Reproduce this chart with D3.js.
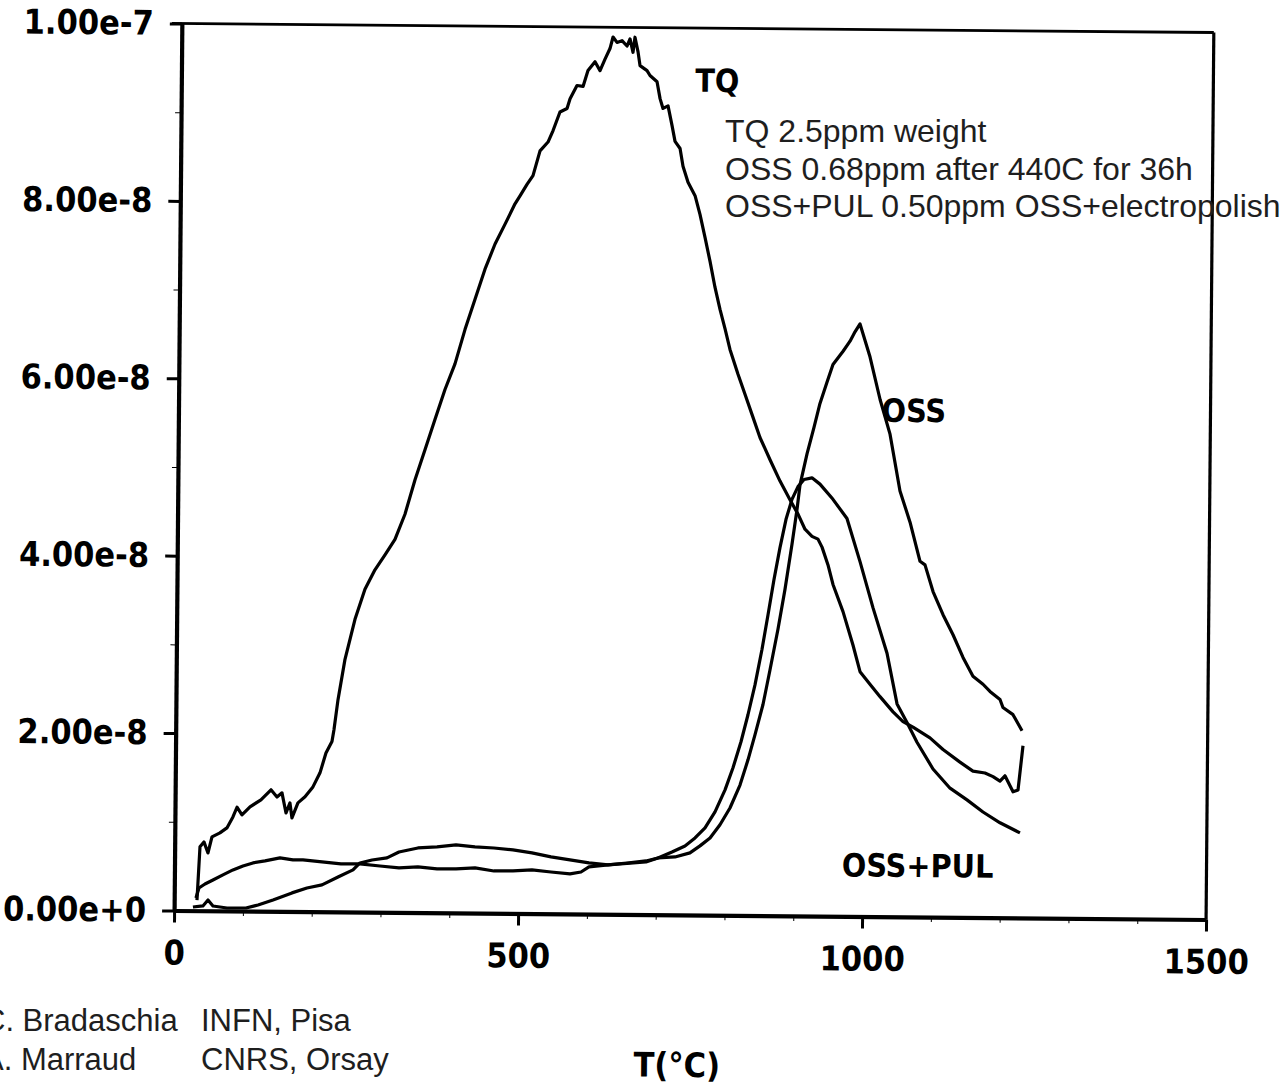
<!DOCTYPE html>
<html>
<head>
<meta charset="utf-8">
<script src="https://cdn.jsdelivr.net/npm/d3@7"></script>
<style>
  body { margin: 0; background: #ffffff; }
  svg { display: block; }
</style>
</head>
<body>
<div id="grafTDS"></div>
<script>
// desorption curves, [temperature °C, signal in units of 1e-9]
const tqData = [
    [33.1, 1.2], [36.8, 7.2], [42.5, 7.76], [48.5, 6.52], [54.1, 8.34], [65.6, 8.79], [75.7, 9.36],
    [84.3, 10.6], [90.1, 11.7], [97.4, 10.85], [109, 11.76], [124.8, 12.56], [139.3, 13.7], [148.1, 12.9],
    [155.3, 13.37], [161.4, 11.1], [167, 12.24], [170.1, 10.55], [178.6, 12.25], [188.8, 12.94],
    [200.2, 14.07], [210.3, 15.66], [218.7, 17.9], [227.3, 19.2], [230, 20.5], [235.5, 23.9],
    [245.1, 28.45], [259.2, 33.0], [273.3, 36.4], [287.6, 38.6], [302, 40.3], [316.3, 42.05],
    [330.5, 44.9], [344.7, 48.8], [358.8, 52.2], [372.9, 55.6], [387.1, 59.0], [401.3, 61.9],
    [415.5, 65.8], [429.6, 69.2], [443.7, 72.6], [458, 75.45], [472.3, 77.7], [486.5, 80.0],
    [493.7, 80.9], [503.7, 82.2], [512.3, 83.2], [522.2, 86.0], [533.7, 87.0], [540.9, 88.3],
    [550.7, 90.4], [560.9, 90.8], [565.2, 91.9], [575.1, 93.4], [583.9, 93.3], [590.9, 95.1],
    [601, 96.1], [608.4, 95.1], [615.5, 96.4], [622.6, 97.6], [626.9, 98.9], [632.7, 98.3],
    [640, 98.5], [647.3, 97.9], [651.6, 98.7], [656.1, 97.2], [658.8, 98.9], [663.4, 97.25],
    [666.5, 95.7], [676.7, 95.15], [681.1, 94.6], [691.4, 93.9], [696, 92.0], [700.4, 90.9],
    [707.7, 91.2], [713.7, 89.0], [718.3, 87.2], [725.7, 86.4], [730.2, 84.4], [737.7, 82.6],
    [748.1, 81.1], [755.5, 79.0], [763.1, 76.4], [770.7, 73.7], [778.2, 70.8], [785.8, 68.3],
    [793.4, 66.1], [800.8, 63.8], [812.8, 61.0], [823.2, 58.75], [833.6, 56.5], [845.5, 53.9],
    [860.4, 51.4], [875.2, 49.0], [889.9, 46.9], [901.8, 45.3], [912.1, 43.6], [922.4, 42.8],
    [931.1, 42.5], [937.1, 41.6], [946, 39.6], [953.5, 37.4], [968.4, 34.35], [983.3, 30.6],
    [993.9, 27.6], [1008.5, 26.2], [1023.3, 24.8], [1042.4, 23.1], [1057, 22.0], [1071.6, 21.4],
    [1096.4, 20.2], [1115.5, 18.9], [1140.3, 17.5], [1159.3, 16.5], [1176.8, 16.3], [1188.5, 15.9],
    [1198.7, 15.4], [1205.9, 16.0], [1217.8, 14.2], [1225, 14.4], [1231.7, 19.4]
];

const ossData = [
    [27.3, 0.41], [41.8, 0.54], [49.1, 1.21], [56.4, 0.54], [76.8, 0.33], [104.4, 0.35], [121.9, 0.7],
    [143.6, 1.28], [171.1, 2.1], [192.8, 2.67], [214.6, 3.03], [237.8, 3.94], [259.5, 4.75],
    [269.5, 5.54], [287, 5.89], [308.7, 6.14], [326.1, 6.82], [353.6, 7.29], [381.3, 7.43],
    [408.9, 7.67], [436.5, 7.47], [464.1, 7.36], [491.7, 7.16], [519.4, 6.84], [547.1, 6.41],
    [574.7, 6.09], [602.4, 5.77], [630, 5.57], [685.2, 5.93], [702.6, 6.4], [727.3, 6.53],
    [749, 7.0], [763.5, 7.8], [778, 8.7], [792.3, 10.2], [806.6, 12.1], [820.9, 14.7], [832.2, 17.55],
    [842.1, 20.4], [853.3, 23.8], [863, 27.7], [874.1, 32.3], [883.8, 36.8], [893.4, 41.9],
    [900.2, 45.8], [904.3, 48.6], [914.1, 52.1], [923.9, 55.1], [932.3, 57.8], [942.2, 60.2],
    [950.7, 62.2], [965.2, 63.7], [975.2, 64.85], [982.3, 65.9], [989.5, 66.8], [1004.4, 63.1],
    [1019.6, 58.3], [1034.5, 54.4], [1049.7, 48.0], [1064.7, 44.5], [1079.7, 40.1], [1087, 39.7],
    [1099, 36.7], [1113.8, 34.1], [1128.6, 31.85], [1143.4, 29.3], [1158.1, 27.2], [1172.8, 26.3],
    [1183, 25.5], [1197.7, 24.6], [1202.1, 23.7], [1216.8, 22.9], [1230.1, 21.1]
];

const ossPulData = [
    [31.6, 1.43], [35.8, 2.56], [44.5, 3.02], [56.1, 3.48], [70.5, 4.06], [85, 4.63], [99.5, 5.09],
    [114, 5.44], [131.5, 5.68], [153.2, 6.04], [172.1, 5.82], [186.6, 5.83], [214.3, 5.62],
    [241.9, 5.41], [269.5, 5.43], [298.6, 5.22], [326.3, 5.02], [353.8, 5.15], [381.6, 4.94],
    [409.2, 4.96], [436.8, 5.1], [464.4, 4.77], [492, 4.79], [519.6, 4.92], [547.3, 4.71],
    [574.9, 4.51], [590.9, 4.74], [602.4, 5.32], [630, 5.57], [657.6, 5.8], [685.2, 6.05],
    [702.6, 6.4], [722.9, 7.09], [741.7, 7.78], [756.2, 8.69], [770.6, 9.83], [784.9, 11.65],
    [799.2, 14.14], [810.5, 16.64], [821.8, 19.58], [831.6, 22.63], [841.4, 26.0], [851.1, 30.0],
    [859.4, 33.9], [867.7, 37.9], [876, 41.5], [884.4, 44.7], [892.8, 46.95], [901.4, 48.4],
    [910.1, 49.2], [921.6, 49.4], [933.3, 48.7], [952.4, 47.0], [973, 44.85], [992.5, 40.0],
    [1012, 34.8], [1032.9, 29.7], [1048.1, 24.0], [1062.8, 21.9], [1077.6, 19.7], [1101.2, 16.7],
    [1126.2, 14.55], [1151, 13.25], [1174.4, 11.9], [1199.3, 10.7], [1228.4, 9.58]
];

const seriesNames = ["TQ", "OSS", "OSS+PUL"];
const signalUnit = 1e-9;
const xTicks = [0, 500, 1000, 1500];
const xMinorTicks = [100, 200, 300, 400, 600, 700, 800, 900, 1100, 1200, 1300, 1400];
const yTicks = [0, 20, 40, 60, 80, 100];
const yMinorTicks = [10, 30, 50, 70, 90];
const xLabel = "T(°C)";
const notes = ["TQ 2.5ppm weight", "OSS 0.68ppm after 440C for 36h", "OSS+PUL 0.50ppm OSS+electropolish"];
const authors = [["C. Bradaschia", "INFN, Pisa"], ["A. Marraud", "CNRS, Orsay"]];

let svgTDS;
const boldFont = "'DejaVu Sans Condensed', 'DejaVu Sans', sans-serif";
const plainFont = "'Liberation Sans', Arial, sans-serif";

window.addEventListener("load", function () {
    graficoTDS();
});

function graficoTDS() {
    const width = 1282, height = 1085;
    const left = 178, right = 1210, top = 28, bottom = 915;

    svgTDS = d3.select("#grafTDS")
        .append("svg")
        .attr("width", width)
        .attr("height", height);

    // the scanned plot sits slightly rotated on the page
    const plot = svgTDS.append("g")
        .attr("transform", "rotate(0.5, 694, 467)");

    const x = d3.scaleLinear().domain([0, 1500]).range([left, right]);
    const y = d3.scaleLinear().domain([0, 100]).range([bottom, top]);

    // frame top and right
    plot.append("line")
        .attr("x1", left - 10).attr("x2", right)
        .attr("y1", y(100)).attr("y2", y(100))
        .attr("stroke", "#000").attr("stroke-width", 2.8);
    plot.append("line")
        .attr("x1", right).attr("x2", right)
        .attr("y1", y(100)).attr("y2", bottom)
        .attr("stroke", "#000").attr("stroke-width", 3.2);

    // minor ticks
    plot.append("g")
        .attr("transform", `translate(${left},0)`)
        .call(d3.axisLeft(y).tickValues(yMinorTicks).tickSize(6).tickFormat(""))
        .call(g => g.select(".domain").remove());
    plot.append("g")
        .attr("transform", `translate(0,${bottom})`)
        .call(d3.axisBottom(x).tickValues(xMinorTicks).tickSize(5).tickFormat(""))
        .call(g => g.select(".domain").remove());

    // major axes
    const yAxis = plot.append("g")
        .attr("transform", `translate(${left},0)`)
        .call(d3.axisLeft(y)
            .tickValues(yTicks)
            .tickSize(12)
            .tickSizeOuter(0)
            .tickPadding(16)
            .tickFormat(d => d3.format(".2e")(d * signalUnit)));

    const xAxis = plot.append("g")
        .attr("transform", `translate(0,${bottom})`)
        .call(d3.axisBottom(x)
            .tickValues(xTicks)
            .tickSize(12)
            .tickSizeOuter(0)
            .tickPadding(18)
            .tickFormat(d3.format("d")));

    [xAxis, yAxis].forEach(a => {
        a.select(".domain").attr("stroke-width", 4.2);
        a.selectAll(".tick line").attr("stroke-width", 3);
        a.selectAll("text")
            .attr("fill", "#000")
            .style("font-family", boldFont)
            .style("font-stretch", "condensed")
            .style("font-weight", "bold")
            .style("font-size", "34px");
    });
    plot.selectAll(".tick line").attr("stroke", "#000");
    plot.selectAll(".domain").attr("stroke", "#000");

    // curves
    const line = d3.line()
        .x(d => x(d[0]))
        .y(d => y(d[1]));

    [tqData, ossData, ossPulData].forEach((values, i) => {
        plot.append("path")
            .datum(values)
            .attr("class", "line-" + seriesNames[i].replace(/\W+/g, "_"))
            .attr("fill", "none")
            .attr("stroke", "#000")
            .attr("stroke-width", 3.2)
            .attr("stroke-linejoin", "round")
            .attr("d", line);
    });

    // series labels
    const labelPos = [[747, 92.8], [1022, 55.8], [970, 4.5]];
    seriesNames.forEach((name, i) => {
        plot.append("text")
            .attr("x", x(labelPos[i][0]))
            .attr("y", y(labelPos[i][1]))
            .style("font-family", boldFont)
            .style("font-stretch", "condensed")
            .style("font-weight", "bold")
            .style("font-size", "32px")
            .text(name);
    });

    plot.append("text")
        .attr("x", 682)
        .attr("y", 1077)
        .attr("text-anchor", "middle")
        .style("font-family", boldFont)
        .style("font-stretch", "condensed")
        .style("font-weight", "bold")
        .style("font-size", "34px")
        .text(xLabel);

    // typed notes on top of the scan
    notes.forEach((t, i) => {
        svgTDS.append("text")
            .attr("x", 725)
            .attr("y", 142 + i * 37.5)
            .attr("fill", "#1e1e1e")
            .style("font-family", plainFont)
            .style("font-size", "32px")
            .text(t);
    });

    // author lines, cut at the left edge as on the original slide
    authors.forEach((row, i) => {
        const yy = 1031 + i * 39;
        svgTDS.append("text")
            .attr("x", -17).attr("y", yy)
            .attr("fill", "#1e1e1e")
            .style("font-family", plainFont)
            .style("font-size", "31px")
            .text(row[0]);
        svgTDS.append("text")
            .attr("x", 201).attr("y", yy)
            .attr("fill", "#1e1e1e")
            .style("font-family", plainFont)
            .style("font-size", "31px")
            .text(row[1]);
    });
}
</script>
</body>
</html>
